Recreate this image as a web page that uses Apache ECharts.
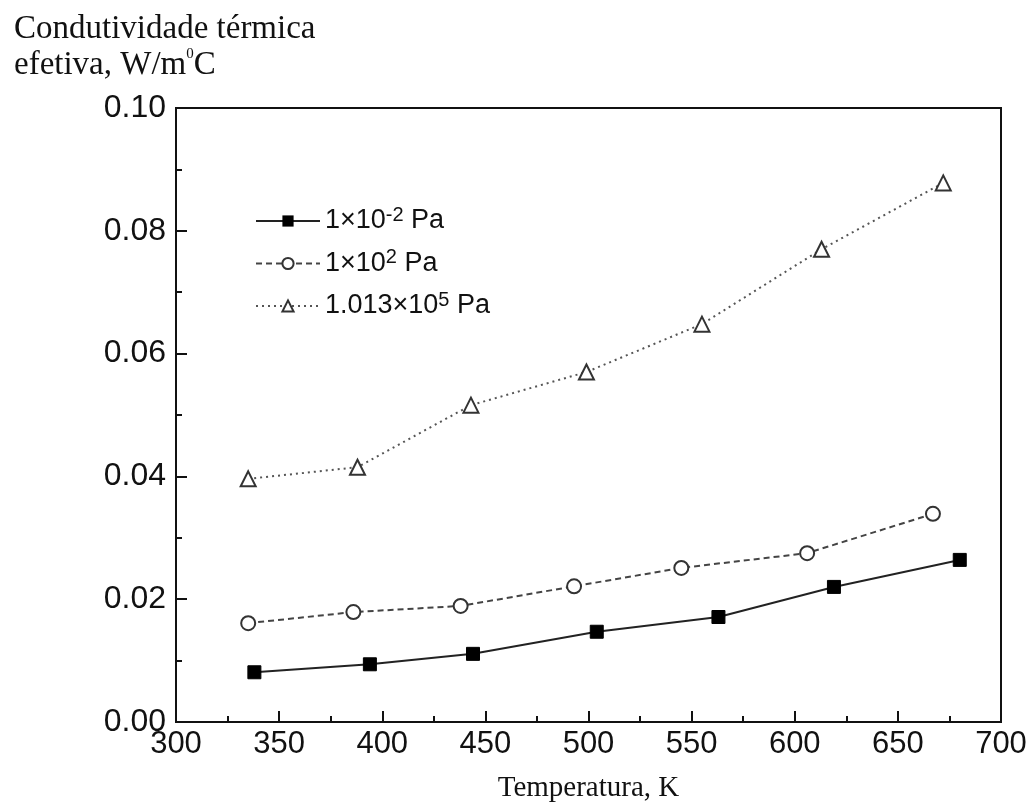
<!DOCTYPE html>
<html>
<head>
<meta charset="utf-8">
<script src="https://cdn.jsdelivr.net/npm/echarts@6/dist/echarts.min.js"></script>
<style>
  html, body { margin: 0; padding: 0; background: #fff; }
  #main { width: 1034px; height: 809px; }
</style>
</head>
<body>
<div id="main"></div>
<script>
// dados (temperatura K, condutividade W/m°C)
const seriesNames = ['1×10-2 Pa', '1×102 Pa', '1.013×105 Pa']
const lowPressure = [[338, 0.0081], [394, 0.0094], [444, 0.0111], [504, 0.0147], [563, 0.0171], [619, 0.0220], [680, 0.0264]]
const midPressure = [[335, 0.0161], [386, 0.0179], [438, 0.0189], [493, 0.0221], [545, 0.0251], [606, 0.0275], [667, 0.0339]]
const atmPressure = [[335, 0.0396], [388, 0.0415], [443, 0.0516], [499, 0.0570], [555, 0.0648], [613, 0.0770], [672, 0.0878]]
const legendLabels = {
  '1×10-2 Pa': '{t|1×10}{s|-2}{t| Pa}',
  '1×102 Pa': '{t|1×10}{s|2}{t| Pa}',
  '1.013×105 Pa': '{t|1.013×10}{s|5}{t| Pa}'
}

const chart = echarts.init(document.getElementById('main'))
const sans = 'Liberation Sans, Arial, sans-serif'
const serif = 'Liberation Serif, Times New Roman, serif'

chart.setOption({
  backgroundColor: '#fff',
  animation: false,
  title: {
    left: 9,
    top: 6,
    text: '{a|Condutividade térmica}\n{a|efetiva, W/m}{s|0}{a|C}',
    textStyle: {
      fontWeight: 'normal',
      rich: {
        a: { fontFamily: serif, fontSize: 33, fontWeight: 'normal', color: '#111', lineHeight: 36 },
        s: { fontFamily: serif, fontSize: 15, fontWeight: 'normal', color: '#111', verticalAlign: 'top', lineHeight: 36, padding: [0, 0, 14, 0] }
      }
    }
  },
  grid: {
    left: 176, right: 33, top: 108, bottom: 87,
    outerBoundsMode: 'none',
    show: true, borderColor: '#111', borderWidth: 2
  },
  legend: {
    orient: 'vertical',
    left: 250,
    top: 200,
    itemWidth: 64,
    itemHeight: 14,
    itemGap: 13,
    formatter: name => legendLabels[name],
    textStyle: {
      rich: {
        t: { fontFamily: sans, fontSize: 27, color: '#111' },
        s: { fontFamily: sans, fontSize: 20, color: '#111', verticalAlign: 'top', padding: [0, 0, 12, 0] }
      }
    },
    data: seriesNames
  },
  xAxis: {
    type: 'value',
    min: 300, max: 700, interval: 50,
    name: 'Temperatura, K',
    nameLocation: 'middle',
    nameGap: 52,
    nameTextStyle: { fontFamily: serif, fontSize: 29, color: '#111' },
    axisLine: { lineStyle: { color: '#111', width: 2 } },
    axisTick: { inside: true, length: 11, lineStyle: { color: '#111', width: 2 } },
    minorTick: { show: true, splitNumber: 2, length: 6, lineStyle: { color: '#111', width: 2 } },
    axisLabel: { fontFamily: sans, fontSize: 31, color: '#111', margin: 7 },
    splitLine: { show: false }
  },
  yAxis: {
    type: 'value',
    min: 0, max: 0.1, interval: 0.02,
    axisLine: { show: true, lineStyle: { color: '#111', width: 2 } },
    axisTick: { show: true, inside: true, length: 11, lineStyle: { color: '#111', width: 2 } },
    minorTick: { show: true, splitNumber: 2, length: 6, lineStyle: { color: '#111', width: 2 } },
    axisLabel: { fontFamily: sans, fontSize: 32, color: '#111', margin: 10, formatter: v => v.toFixed(2) },
    splitLine: { show: false }
  },
  series: [
    {
      name: seriesNames[0], type: 'line', data: lowPressure,
      symbol: 'rect', symbolSize: 13,
      itemStyle: { color: '#000', borderColor: '#000' },
      lineStyle: { color: '#222', width: 2, type: 'solid' }
    },
    {
      name: seriesNames[1], type: 'line', data: midPressure,
      symbol: 'circle', symbolSize: 14,
      itemStyle: { color: '#fff', borderColor: '#333', borderWidth: 2 },
      lineStyle: { color: '#444', width: 2, type: [6, 4] }
    },
    {
      name: seriesNames[2], type: 'line', data: atmPressure,
      symbol: 'triangle', symbolSize: 15,
      itemStyle: { color: '#fff', borderColor: '#333', borderWidth: 2 },
      lineStyle: { color: '#555', width: 2, type: [2, 4] }
    }
  ]
})
</script>
</body>
</html>
